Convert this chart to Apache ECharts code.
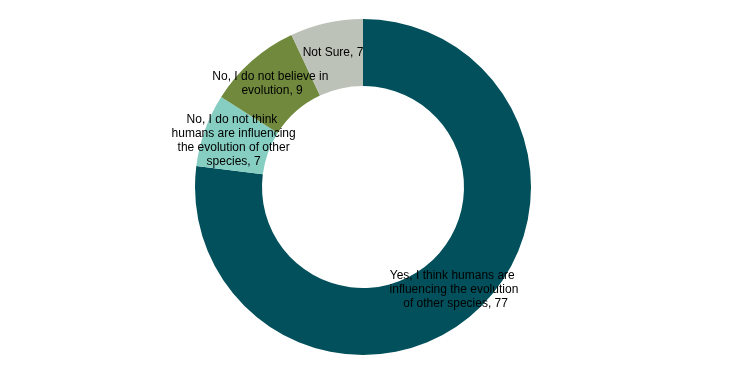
<!DOCTYPE html>
<html>
<head>
<meta charset="utf-8">
<script src="https://cdn.jsdelivr.net/npm/echarts@6/dist/echarts.min.js"></script>
<style>html,body{margin:0;padding:0;background:#fff}#c{width:737px;height:374px}</style>
</head>
<body>
<div id="c"></div>
<script>
var categories = [
  "Yes, I think humans are influencing the evolution of other species",
  "No, I do not think humans are influencing the evolution of other species",
  "No, I do not believe in evolution",
  "Not Sure"
];
var values = [77, 7, 9, 7];
var colors = ["#01505B", "#86CEC1", "#70893D", "#BCC2B8"];
var labelWidths = [132, 126, 120, 100];

var chart = echarts.init(document.getElementById('c'), null, {renderer: 'canvas'});
chart.setOption({
  animation: false,
  series: [{
    type: 'pie',
    center: [363, 187],
    radius: [101, 168],
    startAngle: 90,
    clockwise: true,
    avoidLabelOverlap: false,
    label: {
      show: true,
      position: 'inside',
      color: '#000',
      fontFamily: 'Liberation Sans, Arial, sans-serif',
      fontSize: 12,
      lineHeight: 14,
      overflow: 'break',
      align: 'center',
      formatter: function (p) { return p.name + ', ' + p.value; }
    },
    labelLine: {show: false},
    emphasis: {disabled: true},
    data: categories.map(function (n, i) {
      return {name: n, value: values[i], itemStyle: {color: colors[i]}, label: {width: labelWidths[i]}};
    })
  }]
});
</script>
</body>
</html>
